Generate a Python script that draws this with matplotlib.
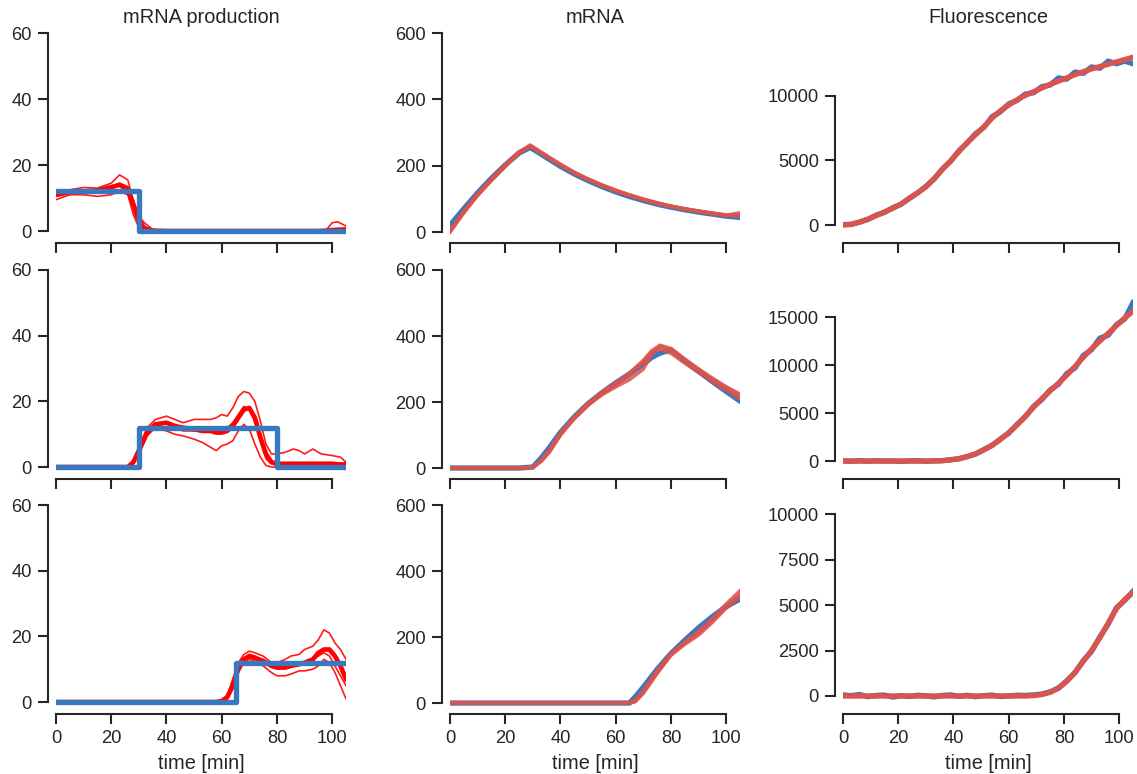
import numpy as np
import matplotlib
matplotlib.use("Agg")
import matplotlib.pyplot as plt

# %%
# values
# mRNA production (left column): thin red samples, thick red mean, blue step input
p1_t = [0, 5, 10, 15, 20, 23, 26, 28, 30, 32, 35, 40, 60, 80, 95, 98, 100, 102, 105]
p1_mean = [11, 11.8, 12, 12.3, 13.3, 14, 12.5, 8, 3, 0.7, 0.1, 0, 0, 0, 0, 0.1, 0.3, 0.4, 0.5]
p1_hi = [12, 12.5, 13.2, 13, 14.5, 17, 15.5, 9, 4.5, 2.5, 0.5, 0, 0, 0, 0, 0.5, 2.5, 2.8, 1.5]
p1_lo = [9.5, 11, 11, 10.5, 11, 12, 11, 5, 1, 0, 0, 0, 0, 0, 0, 0, 0, 0, 0]
p1_mid = [10.5, 11.5, 12.3, 12, 13, 14.5, 13.5, 9.5, 4.5, 1.5, 0.2, 0, 0, 0, 0, 0, 0.2, 0.3, 0.3]

p2_t = [0, 26, 28, 30, 33, 36, 40, 43, 46, 50, 53, 56, 58, 60, 62, 64, 66, 68, 70, 72,
        74, 76, 78, 80, 83, 86, 88, 90, 93, 96, 100, 103, 105]
p2_mean = [0, 0, 1.5, 5, 10.5, 13, 13.5, 12.5, 12, 11.5, 11, 11, 10.5, 10.5, 11, 12.5, 15, 17.5, 18, 15,
           9, 4, 1.5, 1, 1, 1, 1, 1, 1, 1, 1, 0.8, 0.8]
p2_hi = [0, 0.2, 2, 6, 12, 14.5, 15.5, 14.5, 13.5, 14.5, 14.5, 14.5, 15, 16, 15.5, 18, 21.5, 23, 22.5, 20,
         14, 7, 4, 4, 4.5, 5.5, 5, 4, 5.5, 4, 3.5, 3, 1.5]
p2_lo = [0, 0, 1, 4, 9.5, 12, 11, 10, 9.5, 8.5, 7.5, 6, 5, 6.5, 7, 8, 11, 13, 11.5, 7,
         3, 0.5, 0, 0, 0, 0, 0, 0, 0, 0, 0, 0, 0]
p2_mid = [0, 0, 1.5, 5.5, 11.5, 13.5, 13.5, 12, 11, 11, 11.5, 11.5, 11.5, 12, 12, 13.5, 16, 18.5, 17.5, 14,
          8, 2.5, 1, 0.5, 0.5, 0.5, 0.5, 0.5, 0.5, 0.5, 0.5, 0.5, 0.5]

p3_t = [0, 58, 60, 62, 64, 66, 68, 70, 72, 75, 78, 80, 83, 85, 88, 90, 93, 95, 97, 99, 101, 103, 105]
p3_mean = [0, 0, 0.3, 1.5, 5, 10, 13, 14, 13.5, 12.5, 11, 10.5, 10.5, 11, 11.5, 12, 13, 15, 16, 16, 14, 11, 7]
p3_hi = [0, 0, 0.5, 2, 7, 12, 14.5, 15.5, 15, 14, 12, 12, 13, 14, 14.5, 16, 17, 19, 22, 21, 18, 16, 13]
p3_lo = [0, 0, 0.2, 1, 4, 9, 12, 13, 12.5, 11, 9, 8, 8, 8.5, 9.5, 9.5, 10, 11, 13, 12, 9, 5, 1]
p3_mid = [0, 0, 0.3, 1.5, 5, 11, 13.5, 14.5, 14, 12, 11, 11, 12, 12, 12, 12, 13, 14, 15, 14, 11, 8, 5]

step1_t, step1_v = [0, 30, 30, 105], [12, 12, 0, 0]
step2_t, step2_v = [0, 30, 30, 80, 80, 105], [0, 0, 12, 12, 0, 0]
step3_t, step3_v = [0, 65, 65, 105], [0, 0, 12, 12]

# mRNA (middle column)
m1_t = [0, 5, 10, 15, 20, 25, 29, 32, 35, 40, 45, 50, 55, 60, 65, 70, 75, 80, 85, 90, 95, 100, 105]
m1_blue = [20, 70, 118, 162, 202, 238, 255, 240, 224, 198, 175, 155, 137, 121, 107, 95, 84, 75, 67, 60, 54, 48, 44]
m1_red = [
    [0, 58, 112, 158, 200, 240, 262, 246, 230, 204, 180, 160, 142, 126, 112, 99, 88, 78, 70, 63, 57, 51, 48],
    [5, 62, 115, 160, 203, 242, 258, 243, 227, 201, 178, 158, 140, 124, 110, 97, 86, 77, 69, 62, 56, 50, 58],
    [2, 60, 110, 155, 198, 238, 260, 245, 229, 203, 179, 159, 141, 125, 111, 98, 87, 77, 69, 62, 55, 50, 52],
]

m2_t = [0, 25, 30, 33, 36, 40, 45, 50, 55, 60, 65, 70, 73, 76, 80, 85, 90, 95, 100, 105]
m2_blue = [0, 0, 3, 30, 62, 108, 155, 195, 228, 258, 285, 315, 335, 348, 358, 325, 293, 262, 232, 203]
m2_red = [
    [0, 0, 2, 22, 52, 102, 152, 192, 222, 246, 268, 300, 345, 368, 358, 328, 298, 270, 244, 218],
    [0, 0, 2, 20, 48, 100, 150, 190, 225, 252, 282, 320, 350, 360, 348, 318, 290, 262, 236, 210],
    [0, 0, 2, 24, 55, 106, 155, 197, 230, 258, 288, 326, 355, 372, 362, 330, 300, 272, 246, 224],
]

m3_t = [0, 60, 65, 67, 70, 75, 80, 85, 90, 95, 100, 105]
m3_blue = [0, 0, 0, 18, 48, 102, 150, 190, 228, 262, 292, 315]
m3_red = [
    [0, 0, 0, 5, 32, 92, 148, 182, 212, 250, 292, 330],
    [0, 0, 0, 8, 38, 98, 150, 185, 218, 255, 300, 340],
    [0, 0, 0, 4, 30, 90, 145, 178, 206, 245, 288, 322],
]

# Fluorescence (right column), sampled every 3 min
f_t = np.arange(0, 106, 3)
f1_blue = [30, 40, 230, 430, 760, 980, 1330, 1600, 2080, 2480, 2990, 3560, 4350, 4950, 5760, 6360, 7080, 7560,
           8400, 8780, 9380, 9650, 10150, 10250, 10720, 10850, 11400, 11300, 11850, 11750, 12250, 12150,
           12700, 12500, 12700, 12500]
f1_red = [0, 60, 220, 450, 730, 1000, 1300, 1620, 2050, 2500, 2950, 3600, 4300, 4980, 5700, 6400, 7000, 7600,
          8300, 8850, 9300, 9700, 10050, 10320, 10620, 10900, 11150, 11400, 11650, 11880, 12100, 12280,
          12460, 12640, 12820, 13000]
f2_blue = [20, -30, 40, -20, 30, -10, 20, -40, 10, 30, -20, 20, 30, 140, 230, 480, 720, 1200, 1620, 2300,
           2900, 3800, 4600, 5700, 6400, 7400, 8000, 9100, 9700, 11000, 11600, 12800, 13100, 14200, 14800, 16500]
f2_red = [0, 0, 0, 0, 0, 0, 0, 0, 0, 0, 0, 10, 40, 110, 250, 450, 750, 1150, 1650, 2250, 2950, 3750,
          4650, 5600, 6500, 7300, 8100, 8950, 9850, 10800, 11700, 12500, 13300, 14100, 14900, 15600]
f3_blue = [60, 20, 80, -40, 30, 50, -60, 20, -30, 40, 10, -50, 30, 60, -20, 40, -40, 20, 50, -30,
           10, 40, 30, 60, 110, 230, 420, 830, 1280, 1950, 2450, 3250, 3950, 4850, 5250, 5750]
f3_red = [0] * 23 + [20, 80, 200, 450, 800, 1300, 1900, 2500, 3200, 4000, 4800, 5300, 5700]

col_titles = ["mRNA production", "mRNA", "Fluorescence"]

# %%
blue = "#3778bf"
pale_red = "#d9544d"
ink = "#262626"

plt.rcParams.update({
    "font.family": ["Liberation Sans", "DejaVu Sans"],
    "font.size": 12,
    "axes.titlesize": 12,
    "axes.labelsize": 12,
    "xtick.labelsize": 11,
    "ytick.labelsize": 11,
    "text.color": ink,
    "axes.labelcolor": ink,
    "xtick.color": ink,
    "ytick.color": ink,
    "axes.edgecolor": ink,
    "axes.linewidth": 1.25,
    "xtick.major.size": 6,
    "ytick.major.size": 6,
    "xtick.major.width": 1.25,
    "ytick.major.width": 1.25,
})

W, H, dpi = 1137, 774, 120
fig = plt.figure(figsize=(W / dpi, H / dpi), dpi=dpi)

col_left = [56, 450, 843]
col_w = 290
row_top = [33, 270, 505]
row_bot = [235, 471, 706]

axes = [[fig.add_axes([l / W, 1 - b / H, col_w / W, (b - t) / H])
         for l in col_left] for t, b in zip(row_top, row_bot)]

prod = [(p1_t, [p1_hi, p1_lo, p1_mid], p1_mean, step1_t, step1_v),
        (p2_t, [p2_hi, p2_lo, p2_mid], p2_mean, step2_t, step2_v),
        (p3_t, [p3_hi, p3_lo, p3_mid], p3_mean, step3_t, step3_v)]
mrna = [(m1_t, m1_blue, m1_red), (m2_t, m2_blue, m2_red), (m3_t, m3_blue, m3_red)]
fluo = [(f1_blue, f1_red), (f2_blue, f2_red), (f3_blue, f3_red)]

fluo_ylim = [(-775, 14880), (-1040, 19900), (-550, 10500)]
fluo_ticks = [[0, 5000, 10000], [0, 5000, 10000, 15000], [0, 2500, 5000, 7500, 10000]]

for r in range(3):
    # left: production
    ax = axes[r][0]
    t, samples, mean, st, sv = prod[r]
    for s in samples:
        ax.plot(t, s, color="red", lw=1.0, alpha=0.9)
    ax.plot(t, mean, color="red", lw=2.8)
    ax.plot(st, sv, color=blue, lw=3.2)
    ax.set_ylim(-1.2, 60)
    ax.set_yticks([0, 20, 40, 60])

    # middle: mRNA
    ax = axes[r][1]
    t, b, reds = mrna[r]
    ax.plot(t, b, color=blue, lw=3.2)
    for s in reds:
        ax.plot(t, s, color=pale_red, lw=2.2, alpha=0.85)
    ax.set_ylim(-9, 600)
    ax.set_yticks([0, 200, 400, 600])

    # right: fluorescence
    ax = axes[r][2]
    b, red = fluo[r]
    ax.plot(f_t, b, color=blue, lw=3.2)
    ax.plot(f_t, red, color=pale_red, lw=3.2)
    ax.set_ylim(*fluo_ylim[r])
    ax.set_yticks(fluo_ticks[r])

for r in range(3):
    for c in range(3):
        ax = axes[r][c]
        ax.set_xlim(0, 105)
        ax.set_xticks([0, 20, 40, 60, 80, 100])
        yt = ax.get_yticks()
        for side in ("top", "right"):
            ax.spines[side].set_visible(False)
        ax.spines["left"].set_position(("outward", 5))
        ax.spines["bottom"].set_position(("outward", 5))
        ax.spines["left"].set_bounds(yt[0], yt[-1])
        ax.spines["bottom"].set_bounds(0, 100)
        if r < 2:
            ax.set_xticklabels([])
        else:
            ax.set_xlabel("time [min]")
        if r == 0:
            ax.set_title(col_titles[c], pad=6)

fig.savefig("out.png", dpi=dpi)
